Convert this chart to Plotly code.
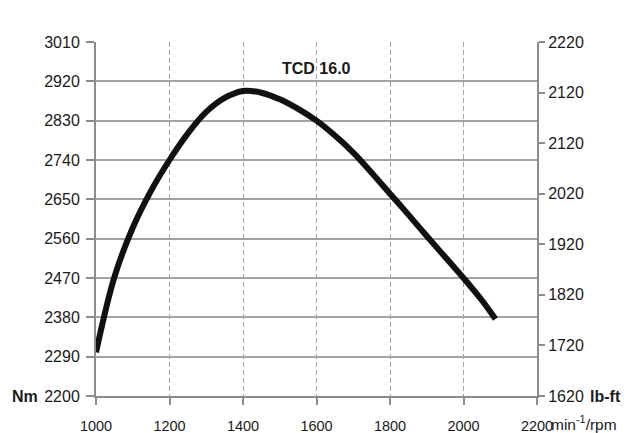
import plotly.graph_objects as go

# Torque curve (rpm, Nm)
rpm = [1000, 1050, 1100, 1150, 1200, 1250, 1300, 1350, 1400, 1450, 1500, 1550, 1600,
       1650, 1700, 1750, 1800, 1850, 1900, 1950, 2000, 2050, 2087]
torque_nm = [2300, 2472, 2585, 2670, 2740, 2801, 2850, 2882, 2898, 2894, 2879, 2857, 2830,
             2796, 2757, 2711, 2663, 2615, 2566, 2518, 2470, 2419, 2376]

x_ticks = [1000, 1200, 1400, 1600, 1800, 2000, 2200]
nm_ticks = [2200, 2290, 2380, 2470, 2560, 2650, 2740, 2830, 2920, 3010]
lbft_labels = ["1620", "1720", "1820", "1920", "2020", "2120", "2120", "2220"]

title_text = "TCD 16.0"

FONT = "Liberation Sans, Arial, sans-serif"
GRID = "#a3a3a3"
AXIS = "#8c8c8c"
TXT = "#1a1a1a"

# page has an 8px body margin; figure is sized so the plot lands where the reference has it
OFF = 8
W, H = 637 - OFF, 433 - OFF
L, R, T, B = 96 - OFF, 99.5, 41.5 - OFF, 37

fig = go.Figure()
fig.add_trace(go.Scatter(
    x=rpm, y=torque_nm, mode="lines",
    line=dict(color="#111111", width=6, shape="spline", smoothing=1.0),
    showlegend=False, hoverinfo="skip",
))
# empty trace to create right axis
fig.add_trace(go.Scatter(x=[], y=[], yaxis="y2", showlegend=False, hoverinfo="skip"))

fig.update_layout(
    width=W, height=H,
    margin=dict(l=L, r=R, t=T, b=B, pad=0, autoexpand=False),
    paper_bgcolor="white", plot_bgcolor="white",
    font=dict(family=FONT, color=TXT),
    xaxis=dict(
        range=[1000, 2200], tickvals=x_ticks, ticktext=[str(v) for v in x_ticks],
        showgrid=True, gridcolor=GRID, griddash="5px,3px", gridwidth=1,
        showline=True, linecolor=AXIS, linewidth=2,
        ticks="outside", ticklen=7, tickcolor=AXIS, tickwidth=1.5,
        ticklabelstandoff=9,
        tickfont=dict(size=14.5, family=FONT, color=TXT),
        zeroline=False, automargin=False,
    ),
    yaxis=dict(
        range=[2200, 3010], tickvals=nm_ticks,
        showgrid=True, gridcolor=GRID, gridwidth=1.6,
        showline=True, linecolor=AXIS, linewidth=2,
        ticks="outside", ticklen=8, tickcolor=AXIS, tickwidth=1.5,
        ticklabelstandoff=3,
        tickfont=dict(size=16, family=FONT, color=TXT),
        zeroline=False, automargin=False,
    ),
    yaxis2=dict(
        overlaying="y", side="right", range=[0, 7],
        tickvals=list(range(len(lbft_labels))), ticktext=lbft_labels,
        showgrid=False, showline=True, linecolor=AXIS, linewidth=2,
        ticks="outside", ticklen=6, tickcolor=AXIS, tickwidth=1.5,
        tickfont=dict(size=16, family=FONT, color=TXT),
        zeroline=False, automargin=False,
    ),
    annotations=[
        dict(text="<b>" + title_text + "</b>", x=1600, y=2949, xref="x", yref="y",
             showarrow=False, font=dict(size=16, family=FONT, color=TXT)),
        dict(text="<b>Nm</b>", x=40, y=397, xref="paper", yref="paper",
             showarrow=False, xanchor="right", yanchor="middle",
             font=dict(size=16, family=FONT, color=TXT)),
        dict(text="<b>lb-ft</b>", x=589, y=397, xref="paper", yref="paper",
             showarrow=False, xanchor="left", yanchor="middle",
             font=dict(size=16, family=FONT, color=TXT)),
        dict(text="min<sup>-1</sup>/rpm", x=550, y=423, xref="paper", yref="paper",
             showarrow=False, xanchor="left", yanchor="middle",
             font=dict(size=15.5, family=FONT, color=TXT)),
    ],
)

# Convert screen-pixel positions of the paper annotations to paper coords
pw = W - L - R
ph = H - T - B
for a in fig.layout.annotations:
    if a.xref == "paper":
        a.x = (a.x - OFF - L) / pw
        a.y = 1 - (a.y - OFF - T) / ph

fig.write_html("out.html")
